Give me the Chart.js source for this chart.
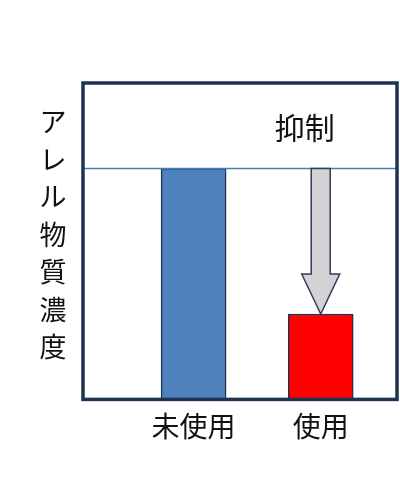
<!DOCTYPE html>
<html>
<head>
<meta charset="utf-8">
<script src="https://cdn.jsdelivr.net/npm/chart.js@4"></script>
<style>
  html, body { margin: 0; padding: 0; background: #fff; }
  #wrap { width: 400px; height: 480px; }
</style>
</head>
<body>
<div id="wrap"><canvas id="chart"></canvas></div>
<script>
const categories = ["未使用", "使用"];
const values = [73, 27];
const barColors = ["#4f81bd", "#ff0000"];
const yTitle = "アレル物質濃度";
const arrowLabel = "抑制";

const jpFont = "'Noto Sans CJK JP', 'Noto Sans', sans-serif";

// frame, reference line, arrow and vertical title
const decor = {
  id: "decor",
  afterDatasetsDraw(chart) {
    const { ctx, chartArea: a, scales } = chart;
    const x = scales.x;
    const y = scales.y;
    const lineY = y.getPixelForValue(values[0]);
    const tipY = y.getPixelForValue(values[1]);
    const cx = x.getPixelForValue(1);

    ctx.save();
    // reference line at the untreated level
    ctx.strokeStyle = "#4a7ebb";
    ctx.lineWidth = 1.5;
    ctx.beginPath();
    ctx.moveTo(a.left, lineY);
    ctx.lineTo(a.right, lineY);
    ctx.stroke();

    // down arrow
    const shaft = 9.5, head = 19, headLen = 40;
    ctx.beginPath();
    ctx.moveTo(cx - shaft, lineY);
    ctx.lineTo(cx + shaft, lineY);
    ctx.lineTo(cx + shaft, tipY - headLen);
    ctx.lineTo(cx + head, tipY - headLen);
    ctx.lineTo(cx, tipY);
    ctx.lineTo(cx - head, tipY - headLen);
    ctx.lineTo(cx - shaft, tipY - headLen);
    ctx.closePath();
    ctx.fillStyle = "#d3d3d3";
    ctx.fill();
    ctx.strokeStyle = "#2d3e5a";
    ctx.lineWidth = 1.5;
    ctx.stroke();

    // label above the arrow
    ctx.fillStyle = "#111";
    ctx.font = "30px " + jpFont;
    ctx.textAlign = "center";
    ctx.textBaseline = "middle";
    ctx.fillText(arrowLabel, cx - 16, a.top + 45);

    // frame
    ctx.strokeStyle = "#1f3251";
    ctx.lineWidth = 3.5;
    ctx.strokeRect(a.left, a.top, a.right - a.left, a.bottom - a.top);

    // vertical axis title, one character per line
    ctx.font = "27px " + jpFont;
    const chars = Array.from(yTitle);
    chars.forEach((ch, i) => {
      ctx.fillText(ch, a.left - 30, a.top + 39 + i * 37.5);
    });
    ctx.restore();
  },
};

const ctx = document.getElementById("chart").getContext("2d");
let barChart = new Chart(ctx, {
  type: "bar",
  data: {
    datasets: [
      {
        label: yTitle,
        data: values.map((v, i) => ({ x: i, y: v })),
        backgroundColor: barColors,
        borderColor: "#1f3251",
        borderWidth: 1.5,
        barThickness: 65,
      },
    ],
  },
  options: {
    responsive: true,
    maintainAspectRatio: false,
    animation: false,
    layout: {
      padding: { left: 83, right: 3, top: 83, bottom: 27 },
    },
    plugins: {
      legend: { display: false },
      tooltip: { enabled: false },
    },
    scales: {
      x: {
        type: "linear",
        offset: false,
        min: -0.87,
        max: 1.6,
        grid: { display: false, drawTicks: false },
        border: { display: false },
        afterBuildTicks: (axis) => {
          axis.ticks = categories.map((c, i) => ({ value: i }));
        },
        ticks: {
          autoSkip: false,
          maxRotation: 0,
          padding: 10,
          color: "#111",
          font: { family: jpFont, size: 28 },
          callback: (v) => categories[v],
        },
      },
      y: {
        display: false,
        min: 0,
        max: 100,
      },
    },
  },
  plugins: [decor],
});
</script>
</body>
</html>
